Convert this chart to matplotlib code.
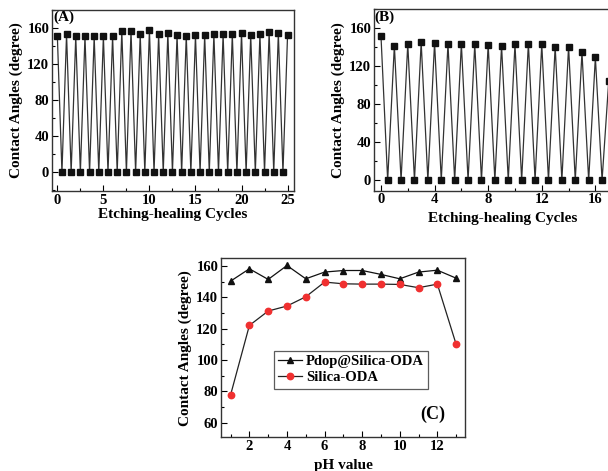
import numpy as np
import matplotlib
matplotlib.use("Agg")
import matplotlib.pyplot as plt
from matplotlib.ticker import MultipleLocator

# Panel A data
a_cycles = [0, 0.5, 1, 1.5, 2, 2.5, 3, 3.5, 4, 4.5, 5, 5.5, 6, 6.5, 7, 7.5, 8, 8.5, 9, 9.5,
            10, 10.5, 11, 11.5, 12, 12.5, 13, 13.5, 14, 14.5, 15, 15.5, 16, 16.5, 17, 17.5,
            18, 18.5, 19, 19.5, 20, 20.5, 21, 21.5, 22, 22.5, 23, 23.5, 24, 24.5, 25]
a_high = [151.5, 153, 150.7, 150.7, 150.7, 150.7, 150.7, 157, 157, 153, 158, 153, 154.4,
          152, 151.5, 152, 152, 153, 153, 153, 154.4, 152, 153, 155.5, 154.4, 152]
a_low = [0] * 25

# Panel B data
b_cycles = [0, 0.5, 1, 1.5, 2, 2.5, 3, 3.5, 4, 4.5, 5, 5.5, 6, 6.5, 7, 7.5, 8, 8.5,
            9, 9.5, 10, 10.5, 11, 11.5, 12, 12.5, 13, 13.5, 14, 14.5, 15, 15.5, 16, 16.5, 17]
b_high = [152.3, 141.8, 143.5, 145.3, 145, 143.5, 143.5, 143.2, 142.8, 141.4, 143.2,
          143.9, 143.2, 140.7, 140.7, 134.7, 129.5, 105]
b_low = [0] * 17

# Panel C data
ph = [1, 2, 3, 4, 5, 6, 7, 8, 9, 10, 11, 12, 13]
pdop = [150.4, 158.3, 151.5, 160.4, 151.9, 156.2, 157.2, 157.2, 154.7, 151.9, 156.2, 157.4, 152.3]
silica = [77.7, 122.1, 131.3, 134.5, 140.4, 149.8, 148.7, 148.5, 148.5, 148.3, 146.2, 148.5, 110]


def interleave(high, low):
    out = []
    for i, h in enumerate(high):
        out.append(h)
        if i < len(low):
            out.append(low[i])
    return out


plt.rcParams['font.family'] = ['Liberation Serif', 'DejaVu Serif']
plt.rcParams['font.weight'] = 'bold'

W, H = 608, 471
fig = plt.figure(figsize=(W / 100, H / 100), dpi=100)


def ax_px(l, t, r, b):
    return fig.add_axes([l / W, 1 - b / H, (r - l) / W, (b - t) / H])


def style(ax):
    ax.tick_params(which='both', direction='in', top=False, right=False,
                   labelsize=10.5, width=0.8, pad=2)
    ax.tick_params(which='major', length=4)
    ax.tick_params(which='minor', length=2)
    for s in ax.spines.values():
        s.set_linewidth(1.0)
        s.set_color('#333333')
    for lab in ax.get_xticklabels() + ax.get_yticklabels():
        lab.set_fontweight('bold')


lc = '#333333'

# Panel A
axA = ax_px(52, 10, 294, 191)
yA = interleave(a_high, a_low)
axA.plot(a_cycles, yA, color=lc, lw=0.9, marker='s', ms=4, mfc='#111111', mec='#111111')
axA.set_xlim(-0.58, 25.7)
axA.set_ylim(-20.8, 180)
axA.xaxis.set_major_locator(MultipleLocator(5))
axA.xaxis.set_minor_locator(MultipleLocator(2.5))
axA.yaxis.set_major_locator(MultipleLocator(40))
axA.yaxis.set_minor_locator(MultipleLocator(20))
axA.set_xlabel('Etching-healing Cycles', fontsize=11, fontweight='bold', labelpad=1)
axA.set_ylabel('Contact Angles (degree)', fontsize=11, fontweight='bold', labelpad=3)
axA.text(0.005, 0.995, '(A)', transform=axA.transAxes, ha='left', va='top',
         fontsize=11, fontweight='bold')
style(axA)

# Panel B (cut off at right edge of figure)
bw = 13.4 * 21.0
axB = ax_px(374, 9.3, 374 + bw, 190.7)
yB = interleave(b_high, b_low)
axB.plot(b_cycles, yB, color=lc, lw=0.9, marker='s', ms=4, mfc='#111111', mec='#111111')
axB.set_xlim(-0.52, 20.48)
axB.set_ylim(-11, 180)
axB.xaxis.set_major_locator(MultipleLocator(4))
axB.xaxis.set_minor_locator(MultipleLocator(2))
axB.yaxis.set_major_locator(MultipleLocator(40))
axB.yaxis.set_minor_locator(MultipleLocator(20))
axB.set_xlabel('Etching-healing Cycles', fontsize=11, fontweight='bold', labelpad=1)
axB.xaxis.set_label_coords((503 - 374) / bw, -0.12)
axB.set_ylabel('Contact Angles (degree)', fontsize=11, fontweight='bold', labelpad=3)
axB.text(0.003, 0.995, '(B)', transform=axB.transAxes, ha='left', va='top',
         fontsize=11, fontweight='bold')
style(axB)

# Panel C
axC = ax_px(221, 258.3, 465, 437.3)
axC.plot(ph, pdop, color='#111111', lw=0.9, marker='^', ms=4.2, mfc='#111111', mec='#111111',
         label='Pdop@Silica-ODA')
axC.plot(ph, silica, color='#222222', lw=0.9, marker='o', ms=4.6, mfc='#f03030', mec='#f03030',
         label='Silica-ODA')
axC.set_xlim(0.49, 13.47)
axC.set_ylim(50.6, 165)
axC.xaxis.set_major_locator(MultipleLocator(2))
axC.xaxis.set_minor_locator(MultipleLocator(1))
axC.yaxis.set_major_locator(MultipleLocator(20))
axC.yaxis.set_minor_locator(MultipleLocator(10))
axC.set_xlabel('pH value', fontsize=11, fontweight='bold', labelpad=4)
axC.set_ylabel('Contact Angles (degree)', fontsize=11, fontweight='bold', labelpad=3)
leg = axC.legend(loc='upper left', bbox_to_anchor=((274 - 221) / 244, 1 - (350.7 - 258.3) / 179),
                 fontsize=10.5, frameon=True, fancybox=False, edgecolor='#333333',
                 handlelength=1.6, handletextpad=0.3, borderpad=0.3, labelspacing=0.2,
                 borderaxespad=0)
leg.get_frame().set_linewidth(0.9)
for t in leg.get_texts():
    t.set_fontweight('bold')
axC.text(0.92, 0.08, '(C)', transform=axC.transAxes, ha='right', va='bottom',
         fontsize=13, fontweight='bold')
style(axC)

fig.savefig('out.png', dpi=100)
